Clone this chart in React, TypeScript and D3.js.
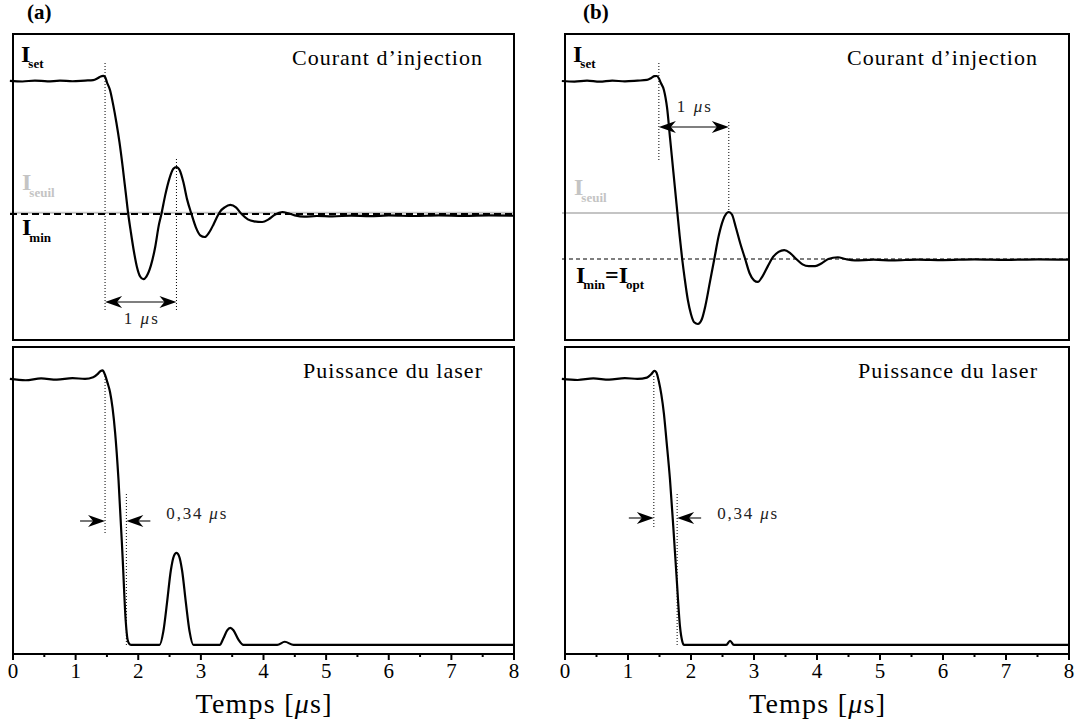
import React from 'react';
import * as d3 from 'd3';

// ---------- data (time in µs, normalised amplitudes) ----------
const timeTicks = [0, 1, 2, 3, 4, 5, 6, 7, 8];
const timeMinorTicks = [0.5, 1.5, 2.5, 3.5, 4.5, 5.5, 6.5, 7.5];
const panelLabels = ['(a)', '(b)'];
const topTitle = 'Courant d\u2019injection';
const bottomTitle = 'Puissance du laser';

const courantA: [number, number][] = [
  [-0.05, 1.0], [0.15, 0.996], [0.35, 1.003], [0.55, 0.997], [0.75, 1.002], [0.95, 0.998], [1.15, 1.003],
  [1.28, 1.006], [1.35, 1.02], [1.40, 1.034], [1.44, 1.038], [1.47, 1.03], [1.50, 0.99], [1.55, 0.93],
  [1.60, 0.82], [1.65, 0.69], [1.70, 0.54], [1.75, 0.36], [1.80, 0.16], [1.84, 0.0], [1.88, -0.13],
  [1.93, -0.28], [1.98, -0.40], [2.03, -0.47], [2.08, -0.49], [2.13, -0.47], [2.20, -0.39], [2.27, -0.25],
  [2.33, -0.08], [2.37, 0.0], [2.43, 0.14], [2.50, 0.27], [2.56, 0.34], [2.61, 0.353], [2.66, 0.33],
  [2.72, 0.24], [2.78, 0.11], [2.85, 0.0], [2.92, -0.10], [2.99, -0.16], [3.06, -0.173], [3.13, -0.14],
  [3.20, -0.08], [3.26, -0.02], [3.31, 0.02], [3.38, 0.05], [3.47, 0.068], [3.56, 0.05], [3.65, 0.0],
  [3.75, -0.04], [3.85, -0.055], [3.98, -0.06], [4.08, -0.04], [4.18, -0.005], [4.30, 0.015], [4.40, 0.005],
  [4.50, -0.01], [4.65, -0.02], [4.85, -0.015], [5.1, -0.018], [5.4, -0.012], [5.7, -0.016], [6.0, -0.011],
  [6.4, -0.015], [6.8, -0.011], [7.2, -0.014], [7.6, -0.011], [8.0, -0.013],
];

const courantB: [number, number][] = [
  [-0.05, 1.0], [0.15, 0.997], [0.35, 1.002], [0.55, 0.996], [0.75, 1.002], [0.95, 0.998], [1.15, 1.002],
  [1.30, 1.006], [1.37, 1.017], [1.42, 1.027], [1.46, 1.028], [1.49, 1.015], [1.52, 0.99], [1.57, 0.95],
  [1.62, 0.85], [1.67, 0.67], [1.72, 0.49], [1.77, 0.31], [1.82, 0.13], [1.86, 0.0], [1.90, -0.11],
  [1.95, -0.23], [2.00, -0.31], [2.05, -0.355], [2.11, -0.365], [2.17, -0.34], [2.23, -0.26], [2.30, -0.13],
  [2.37, 0.0], [2.44, 0.13], [2.51, 0.22], [2.56, 0.255], [2.60, 0.264], [2.65, 0.25], [2.71, 0.18],
  [2.78, 0.09], [2.86, 0.0], [2.93, -0.08], [3.00, -0.12], [3.06, -0.129], [3.13, -0.10], [3.22, -0.04],
  [3.30, 0.01], [3.39, 0.04], [3.48, 0.05], [3.57, 0.035], [3.67, 0.0], [3.77, -0.03], [3.87, -0.04],
  [3.97, -0.04], [4.07, -0.025], [4.18, 0.0], [4.33, 0.01], [4.45, 0.0], [4.6, -0.008], [4.9, -0.004],
  [5.2, -0.008], [5.6, -0.003], [6.0, -0.006], [6.5, -0.002], [7.0, -0.005], [7.5, -0.002], [8.0, -0.004],
];

const puissanceA: [number, number][] = [
  [-0.05, 1.0], [0.2, 0.995], [0.45, 1.002], [0.7, 0.997], [0.95, 1.003], [1.15, 1.0], [1.28, 1.006],
  [1.35, 1.018], [1.40, 1.03], [1.43, 1.032], [1.47, 1.015], [1.51, 0.985], [1.55, 0.95], [1.59, 0.89],
  [1.63, 0.80], [1.685, 0.62], [1.75, 0.33], [1.80, 0.09], [1.83, 0.02], [1.86, 0.003], [1.89, 0.0],
  [2.1, 0.0], [2.34, 0.0], [2.40, 0.05], [2.46, 0.16], [2.52, 0.28], [2.57, 0.335], [2.61, 0.346],
  [2.65, 0.335], [2.70, 0.28], [2.76, 0.16], [2.82, 0.05], [2.88, 0.0], [3.1, 0.0], [3.30, 0.0],
  [3.36, 0.025], [3.42, 0.055], [3.47, 0.064], [3.52, 0.055], [3.60, 0.02], [3.68, 0.0], [4.0, 0.0],
  [4.22, 0.0], [4.34, 0.012], [4.48, 0.0], [5.0, 0.0], [6.0, 0.0], [7.0, 0.0], [8.0, 0.0],
];

const puissanceB: [number, number][] = [
  [-0.05, 1.0], [0.2, 0.996], [0.45, 1.002], [0.7, 0.997], [0.95, 1.003], [1.15, 1.0], [1.30, 1.005],
  [1.37, 1.018], [1.42, 1.03], [1.45, 1.025], [1.49, 0.99], [1.53, 0.94], [1.57, 0.87], [1.61, 0.77],
  [1.667, 0.62], [1.72, 0.44], [1.77, 0.26], [1.825, 0.07], [1.86, 0.015], [1.89, 0.0], [2.2, 0.0],
  [2.56, 0.0], [2.62, 0.015], [2.68, 0.0], [3.0, 0.0], [4.0, 0.0], [5.0, 0.0], [6.0, 0.0], [7.0, 0.0], [8.0, 0.0],
];

const seuilLevels = [0.01, 0.258];
const minLevels = [0, 0];
const courantDomains: [number, number][] = [[-0.947, 1.353], [-0.455, 1.264]];
const puissanceDomain: [number, number] = [-0.034, 1.12];
const periodes: [number, number][] = [[1.47, 2.61], [1.49, 2.60]];
const chutes: [number, number][] = [[1.47, 1.81], [1.41, 1.78]];

// ---------- layout ----------
const W = 1077, H = 726;
const COLS = [{ L: 13, R: 514 }, { L: 565, R: 1069 }];
const TOP = { y0: 34, y1: 340 };
const BOT = { y0: 347, y1: 654 };
const SERIF = '"Liberation Serif", "Times New Roman", serif';

function head(tip: number, y: number, dir: number, len = 17, hw = 6, notch = 5) {
  return `M${tip},${y} L${tip - dir * len},${y - hw} L${tip - dir * (len - notch)},${y} L${tip - dir * len},${y + hw} Z`;
}

function Column({ i }: { i: number }) {
  const { L, R } = COLS[i];
  const x = d3.scaleLinear().domain([0, 8]).range([L, R]);
  const yTop = d3.scaleLinear().domain(courantDomains[i]).range([TOP.y1, TOP.y0]);
  const yBot = d3.scaleLinear().domain(puissanceDomain).range([BOT.y1, BOT.y0]);
  const lineTop = d3.line<[number, number]>().x(d => x(d[0])).y(d => yTop(d[1])).curve(d3.curveMonotoneX);
  const lineBot = d3.line<[number, number]>().x(d => x(d[0])).y(d => yBot(d[1])).curve(d3.curveMonotoneX);
  const courant = i === 0 ? courantA : courantB;
  const puissance = i === 0 ? puissanceA : puissanceB;
  const [p0, p1] = periodes[i];
  const [c0, c1] = chutes[i];
  const isA = i === 0;
  const subFs = 13;
  const bigFs = 24;
  const arrowY = isA ? 302 : 127;
  const chuteY = isA ? 521 : 518;

  return (
    <g>
      <text x={isA ? 27 : 583} y={19} fontFamily={SERIF} fontWeight="bold" fontSize={21}>{panelLabels[i]}</text>

      {/* top panel */}
      <line x1={L - 3} x2={R} y1={yTop(seuilLevels[i])} y2={yTop(seuilLevels[i])} stroke="#c4c4c4" strokeWidth={2} />
      <line x1={L - 3} x2={R} y1={yTop(minLevels[i])} y2={yTop(minLevels[i])} stroke="#000"
        strokeWidth={isA ? 2 : 1.1} strokeDasharray={isA ? '7,4' : '4,3'} />
      <line x1={x(p0)} x2={x(p0)} y1={63} y2={isA ? 310 : 162} stroke="#000" strokeWidth={1} strokeDasharray="1,2" />
      <line x1={x(p1)} x2={x(p1)} y1={isA ? 159 : 122} y2={isA ? 310 : 212} stroke="#000" strokeWidth={1} strokeDasharray="1,2" />
      <path d={lineTop(courant) || ''} fill="none" stroke="#000" strokeWidth={2.2} />
      <line x1={x(p0) + 10} x2={x(p1) - 10} y1={arrowY} y2={arrowY} stroke="#555" strokeWidth={1.6} />
      <path d={head(x(p0), arrowY, -1)} fill="#000" />
      <path d={head(x(p1), arrowY, 1)} fill="#000" />
      <text x={(x(p0) + x(p1)) / 2 - 17} y={isA ? 324 : 112} fontFamily={SERIF} fontSize={17} fill="#222"
        textLength={34} lengthAdjust="spacing">
        1 <tspan fontStyle="italic">{'\u03bc'}</tspan>s
      </text>
      <rect x={L} y={TOP.y0} width={R - L} height={TOP.y1 - TOP.y0} fill="none" stroke="#000" strokeWidth={2} />
      <text x={R - 32} y={65} textAnchor="end" fontFamily={SERIF} fontSize={22} textLength={190} lengthAdjust="spacing">{topTitle}</text>

      {/* labels */}
      <text x={L + 8} y={62} fontFamily={SERIF} fontWeight="bold" fontSize={bigFs}>I<tspan fontSize={subFs} dx={-2} dy={6}>set</tspan></text>
      <text x={L + 9} y={isA ? 190 : 195} fontFamily={SERIF} fontWeight="bold" fontSize={bigFs} fill="#c4c4c4">I<tspan fontSize={subFs} dx={-2} dy={7}>seuil</tspan></text>
      {isA ? (
        <text x={L + 9} y={235} fontFamily={SERIF} fontWeight="bold" fontSize={bigFs}>I<tspan fontSize={subFs} dx={-2} dy={7}>min</tspan></text>
      ) : (
        <text x={L + 11} y={283} fontFamily={SERIF} fontWeight="bold" fontSize={bigFs}>
          I<tspan fontSize={subFs} dx={-2} dy={6}>min</tspan><tspan dy={-6}>=</tspan>I<tspan fontSize={subFs} dx={-2} dy={6}>opt</tspan>
        </text>
      )}

      {/* bottom panel */}
      <line x1={x(c0)} x2={x(c0)} y1={376} y2={isA ? 533 : 528} stroke="#000" strokeWidth={1} strokeDasharray="1,2" />
      <line x1={x(c1)} x2={x(c1)} y1={494} y2={yBot(0)} stroke="#000" strokeWidth={1} strokeDasharray="1,2" />
      <path d={lineBot(puissance) || ''} fill="none" stroke="#000" strokeWidth={2.2} />
      <line x1={x(c0) - 25} x2={x(c0) - 8} y1={chuteY} y2={chuteY} stroke="#555" strokeWidth={1.6} />
      <path d={head(x(c0), chuteY, 1)} fill="#000" />
      <line x1={x(c1) + 8} x2={x(c1) + 24} y1={chuteY} y2={chuteY} stroke="#555" strokeWidth={1.6} />
      <path d={head(x(c1), chuteY, -1)} fill="#000" />
      <text x={x(c1) + 40} y={519} fontFamily={SERIF} fontSize={17} fill="#222" textLength={60} lengthAdjust="spacing">
        0,34 <tspan fontStyle="italic">{'\u03bc'}</tspan>s
      </text>
      <rect x={L} y={BOT.y0} width={R - L} height={BOT.y1 - BOT.y0} fill="none" stroke="#000" strokeWidth={2} />
      <text x={R - 32} y={378} textAnchor="end" fontFamily={SERIF} fontSize={22} textLength={179} lengthAdjust="spacing">{bottomTitle}</text>

      {/* axis */}
      {timeTicks.map(t => (
        <g key={'M' + t}>
          <line x1={x(t)} x2={x(t)} y1={BOT.y1} y2={BOT.y1 + 6} stroke="#000" strokeWidth={2} />
          <text x={x(t)} y={678} textAnchor="middle" fontFamily={SERIF} fontSize={21}>{t}</text>
        </g>
      ))}
      {timeMinorTicks.map(t => (
        <line key={'m' + t} x1={x(t)} x2={x(t)} y1={BOT.y1} y2={BOT.y1 + 3} stroke="#000" strokeWidth={2} />
      ))}
      <text x={(L + R) / 2 - 68} y={713} fontFamily={SERIF} fontSize={28} textLength={136} lengthAdjust="spacing">
        Temps [<tspan fontStyle="italic">{'\u03bc'}</tspan>s]
      </text>
    </g>
  );
}

export default function App() {
  return (
    <svg width={W} height={H} style={{ position: 'absolute', left: 0, top: 0, background: '#fff' }}>
      <rect x={0} y={0} width={W} height={H} fill="#fff" />
      <Column i={0} />
      <Column i={1} />
    </svg>
  );
}
